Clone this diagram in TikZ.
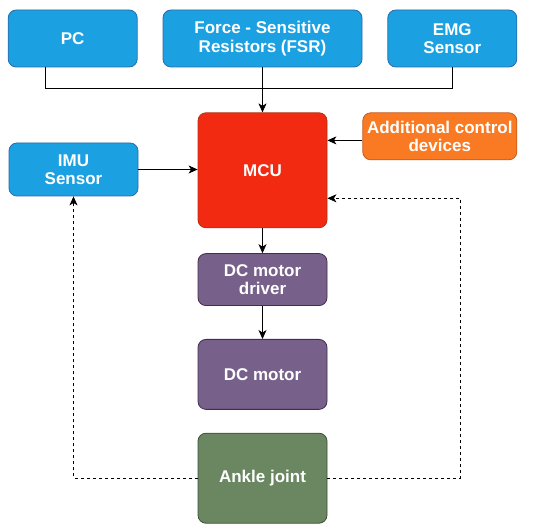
\documentclass[tikz,border=0pt]{standalone}
\usepackage{fontspec}
\setmainfont{Liberation Sans}
\usetikzlibrary{positioning, arrows.meta, calc}
\definecolor{bluefill}{HTML}{1BA1E2}
\definecolor{bluedraw}{HTML}{2A6AA8}
\definecolor{redfill}{HTML}{F22A12}
\definecolor{reddraw}{HTML}{B5300E}
\definecolor{orangefill}{HTML}{F97A22}
\definecolor{orangedraw}{HTML}{C75A1A}
\definecolor{purplefill}{HTML}{77608A}
\definecolor{purpledraw}{HTML}{3F2F4F}
\definecolor{greenfill}{HTML}{6A8762}
\definecolor{greendraw}{HTML}{3B4F36}

\begin{document}
\begin{tikzpicture}[
            x=1pt, y=-1pt, node distance=25pt,
            every node/.style={font=\fontsize{17}{18.5}\selectfont\bfseries, text=white, align=center},
            % Estilos de los bloques
            block/.style={rectangle, rounded corners=8pt, line width=0.8pt, inner sep=2pt},
            sensor/.style={block, draw=bluedraw, fill=bluefill},
            control/.style={block, draw=reddraw, fill=redfill},
            extra/.style={block, draw=orangedraw, fill=orangefill},
            actuator/.style={block, draw=purpledraw, fill=purplefill},
            joint/.style={block, draw=greendraw, fill=greenfill},
            arrow/.style={line width=0.8pt, -{Stealth[length=9pt, width=8pt, inset=2.5pt]}},
            feedback/.style={arrow, dash pattern=on 3pt off 3pt}
        ]

            \useasboundingbox (0,0) rectangle (550,526);

            % Entradas superiores
            \node (fsr) [sensor, minimum width=199pt, minimum height=57pt] at (262.5,38.5) {Force - Sensitive\\Resistors (FSR)};
            \node (pc) [sensor, minimum width=129pt, minimum height=57pt, left=of fsr] {PC};
            \node (emg) [sensor, minimum width=129pt, minimum height=57pt, right=of fsr] {EMG\\Sensor};

            % Controlador
            \node (mcu) [control, minimum width=129pt, minimum height=115pt, below=45pt of fsr] {MCU};
            \node (extra) [extra, minimum width=154pt, minimum height=47pt, anchor=north west] at ($(mcu.north east)+(35,0)$) {Additional control\\devices};
            \node (imu) [sensor, minimum width=129pt, minimum height=53pt] at (73.5,169.5) {IMU\\Sensor};

            % Actuacion
            \node (driver) [actuator, minimum width=129pt, minimum height=52pt, below=of mcu] {DC motor\\driver};
            \node (motor) [actuator, minimum width=129pt, minimum height=70pt, below=33pt of driver] {DC motor};
            \node (ankle) [joint, minimum width=129pt, minimum height=90pt, below=23pt of motor] {Ankle joint};

            % Bus de entradas
            \coordinate (bus) at ($(fsr.south)+(0,21)$);
            \draw [line width=0.8pt] ([xshift=-27pt]pc.south) |- (bus) -| (emg.south);
            \draw [arrow] (fsr.south) -- (mcu.north);

            % Conexiones al MCU
            \draw [arrow] (extra.west |- {$(mcu.north)+(0,28)$}) -- (mcu.east |- {$(mcu.north)+(0,28)$});
            \draw [arrow] (imu.east) -- (imu.east -| mcu.west);

            % Cadena de actuacion
            \draw [arrow] (mcu) -- (driver);
            \draw [arrow] (driver) -- (motor);

            % Realimentacion
            \coordinate (fb_left) at (imu.south |- ankle.west);
            \coordinate (fb_right) at ($(ankle.east)+(133,0)$);
            \draw [feedback] (ankle.west) -- (fb_left) -- (imu.south);
            \draw [feedback] (ankle.east) -- (fb_right) |- ($(mcu.east)+(0,28)$);

        \end{tikzpicture}
\end{document}
